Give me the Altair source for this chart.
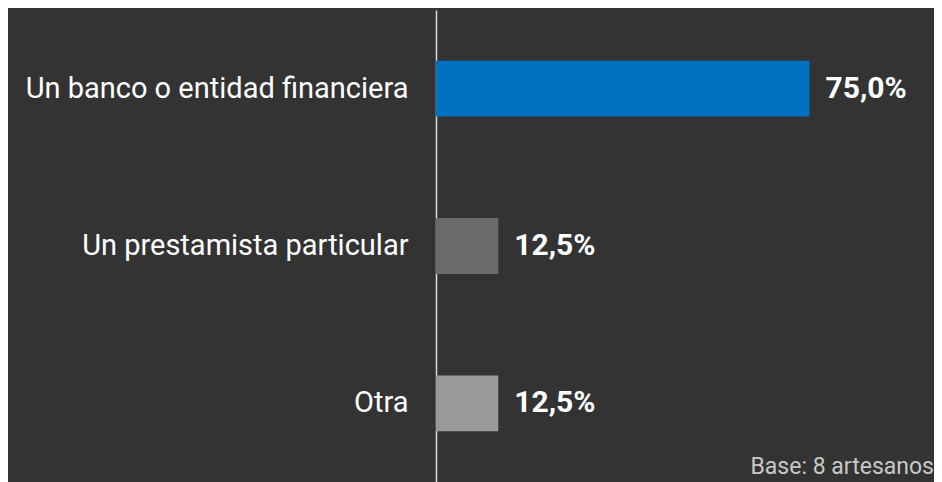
import altair as alt
import pandas as pd

categories = ["Un banco o entidad financiera", "Un prestamista particular", "Otra"]
values = [75.0, 12.5, 12.5]
labels = ["75,0%", "12,5%", "12,5%"]
colors = ["#0070C0", "#6B6B6B", "#999999"]
note_text = ["Base: 8 artesanos"]

df = pd.DataFrame({"cat": categories, "val": values, "label": labels, "color": colors})

W, H = 498, 472
FONT = "Roboto"

base = alt.Chart(df).encode(
    y=alt.Y(
        "cat:N",
        sort=categories,
        scale=alt.Scale(paddingInner=0.645, paddingOuter=0.3225),
        axis=alt.Axis(
            title=None, ticks=False, grid=False, domain=True,
            domainColor="#D9D9D9", domainWidth=1.5,
            labelColor="#FFFFFF", labelFont=FONT, labelFontSize=29,
            labelPadding=28, minExtent=428, maxExtent=428, labelLimit=420,
        ),
    )
)

bars = base.mark_bar().encode(
    x=alt.X("val:Q", scale=alt.Scale(domain=[0, 98.8]), axis=None),
    color=alt.Color("color:N", scale=None),
)

text = base.mark_text(
    align="left", baseline="middle", dx=16, font=FONT, fontSize=30,
    fontWeight="bold", color="#FFFFFF",
).encode(x="val:Q", text="label:N")

note = alt.Chart(pd.DataFrame({"t": note_text})).mark_text(
    align="right", baseline="bottom", font=FONT, fontSize=23, color="#C8C8C8",
).encode(x=alt.value(W), y=alt.value(H - 3), text="t:N")

chart = (
    alt.layer(bars, text, note)
    .properties(
        width=W, height=H,
        padding={"left": 0, "top": 2, "right": 0, "bottom": 0},
        background="#333333",
    )
    .configure_view(stroke=None)
)

chart.save("out.html", embed_options={"renderer": "svg", "actions": False})
